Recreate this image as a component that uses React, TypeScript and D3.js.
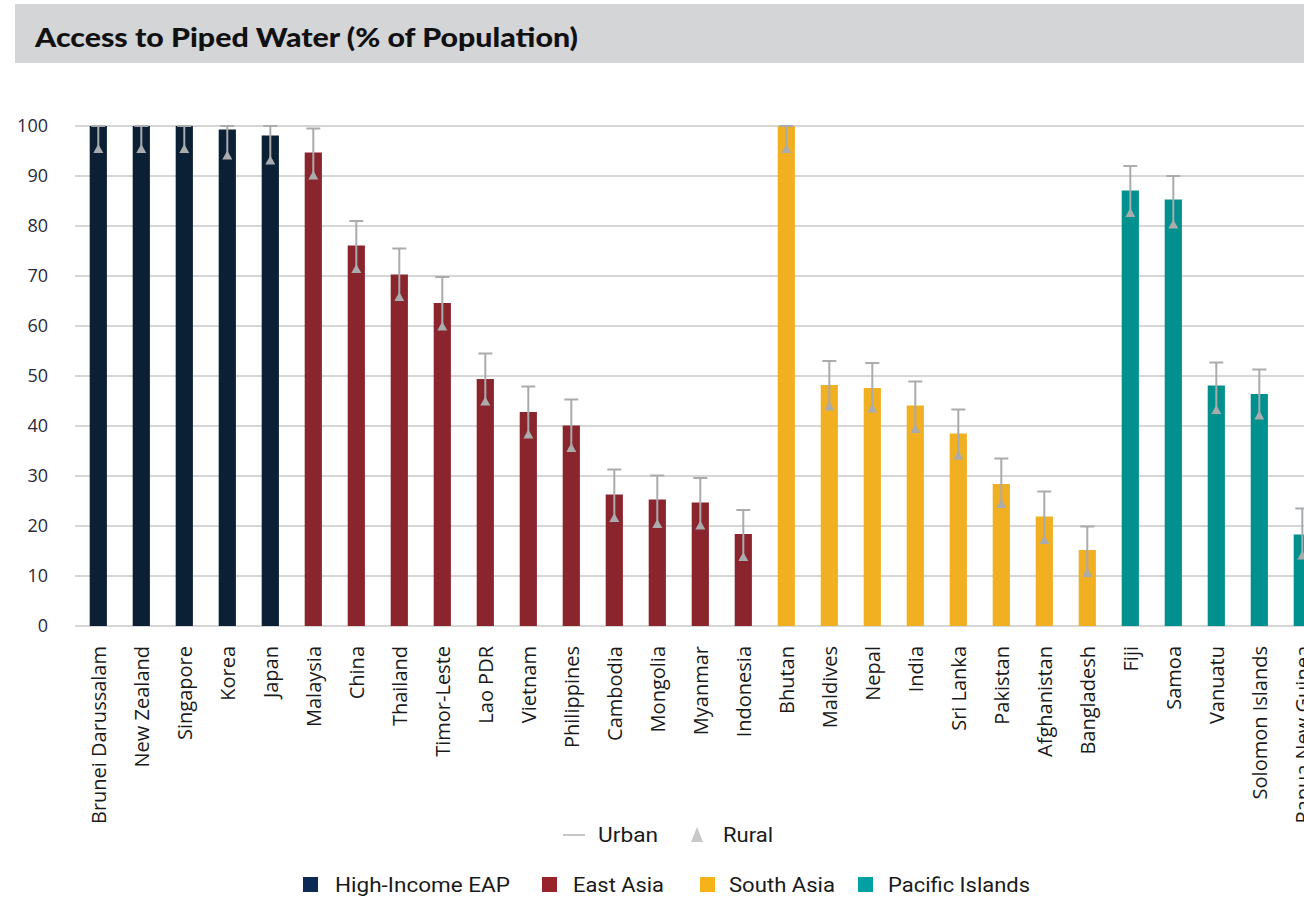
import React from "react";
import * as d3 from "d3";

const countries = [
  "Brunei Darussalam", "New Zealand", "Singapore", "Korea", "Japan",
  "Malaysia", "China", "Thailand", "Timor-Leste", "Lao PDR", "Vietnam", "Philippines",
  "Cambodia", "Mongolia", "Myanmar", "Indonesia",
  "Bhutan", "Maldives", "Nepal", "India", "Sri Lanka", "Pakistan", "Afghanistan", "Bangladesh",
  "Fiji", "Samoa", "Vanuatu", "Solomon Islands", "Papua New Guinea",
];

const regionOf = [
  "High-Income EAP", "High-Income EAP", "High-Income EAP", "High-Income EAP", "High-Income EAP",
  "East Asia", "East Asia", "East Asia", "East Asia", "East Asia", "East Asia", "East Asia",
  "East Asia", "East Asia", "East Asia", "East Asia",
  "South Asia", "South Asia", "South Asia", "South Asia", "South Asia", "South Asia", "South Asia", "South Asia",
  "Pacific Islands", "Pacific Islands", "Pacific Islands", "Pacific Islands", "Pacific Islands",
];

const nationalValues = [
  100, 100, 100, 99.3, 98.1,
  94.7, 76.1, 70.3, 64.6, 49.4, 42.8, 40.1, 26.3, 25.3, 24.7, 18.4,
  100, 48.2, 47.6, 44.1, 38.5, 28.4, 21.9, 15.2,
  87.1, 85.3, 48.1, 46.4, 18.3,
];

const urbanValues = [
  100, 100, 100, 100, 100,
  99.5, 81, 75.5, 69.8, 54.5, 47.9, 45.3, 31.3, 30.1, 29.6, 23.2,
  100, 53, 52.6, 48.9, 43.3, 33.5, 26.9, 19.9,
  92, 90, 52.7, 51.3, 23.5,
];

const ruralValues = [
  95.5, 95.5, 95.5, 94.2, 93.2,
  90.2, 71.5, 65.9, 60, 45, 38.4, 35.7, 21.7, 20.5, 20.2, 13.9,
  95.5, 44, 43.6, 39.5, 34.2, 24.5, 17.3, 10.7,
  82.7, 80.4, 43.3, 42.2, 14.2,
];

const regions = ["High-Income EAP", "East Asia", "South Asia", "Pacific Islands"];
const regionColors = ["#0b1f35", "#8a252e", "#f1b022", "#00918f"];
const legendColors = ["#0d2a55", "#98232d", "#f6b319", "#00a0a4"];

const yTicks = [0, 10, 20, 30, 40, 50, 60, 70, 80, 90, 100];

const W = 1304;
const H = 899;

export default function App() {
  const x = d3
    .scaleBand<string>()
    .domain(countries)
    .range([76.8, 76.8 + 43 * countries.length])
    .paddingInner(0.6)
    .paddingOuter(0.3);
  const y = d3.scaleLinear().domain([0, 100]).range([626, 126]);
  const color = d3.scaleOrdinal<string, string>().domain(regions).range(regionColors);
  const legendColor = d3.scaleOrdinal<string, string>().domain(regions).range(legendColors);
  const bw = x.bandwidth();
  const errColor = "#a9abad";
  const triW = 10;
  const triH = 9;

  const legendItems = [
    { x: 303, tx: 335, tw: 175 },
    { x: 542, tx: 573, tw: 91 },
    { x: 700, tx: 729, tw: 106 },
    { x: 858, tx: 888, tw: 142 },
  ];

  return (
    <div style={{ position: "absolute", left: 0, top: 0 }}>
      <svg width={W} height={H} style={{ display: "block", background: "#fff" }}>
        <rect x={15} y={4} width={W} height={59} fill="#d4d5d7" />
        <text
          x={35}
          y={47}
          fontFamily="Lato, 'Open Sans', sans-serif"
          fontWeight={900}
          fontSize={27}
          fill="#111"
          textLength={543}
          lengthAdjust="spacingAndGlyphs"
        >
          Access to Piped Water (% of Population)
        </text>

        {yTicks.map((t) => (
          <g key={t}>
            <line x1={75} x2={W + 50} y1={y(t)} y2={y(t)} stroke="#d6d6d6" strokeWidth={2} />
            <text
              x={48}
              y={y(t)}
              dy="0.35em"
              textAnchor="end"
              fontFamily="'Open Sans', sans-serif"
              fontSize={18}
              fill="#2a2a3a"
            >
              {t}
            </text>
          </g>
        ))}

        {countries.map((c, i) => {
          const cx = (x(c) as number) + bw / 2;
          const yu = y(urbanValues[i]);
          const yr = y(ruralValues[i]);
          return (
            <g key={c}>
              <rect
                x={x(c)}
                y={y(nationalValues[i])}
                width={bw}
                height={y(0) - y(nationalValues[i])}
                fill={color(regionOf[i])}
              />
              <line x1={cx} x2={cx} y1={yu} y2={yr} stroke={errColor} strokeWidth={2} />
              <line x1={cx - 7} x2={cx + 7} y1={yu} y2={yu} stroke={errColor} strokeWidth={2} />
              <path
                d={`M${cx},${yr - triH / 2}L${cx + triW / 2},${yr + triH / 2}L${cx - triW / 2},${yr + triH / 2}Z`}
                fill={errColor}
              />
              <text
                transform={`translate(${cx},646) rotate(-90)`}
                textAnchor="end"
                dy="0.36em"
                fontFamily="'Open Sans', sans-serif"
                fontSize={20}
                fill="#1a1a1a"
              >
                {c}
              </text>
            </g>
          );
        })}

        {/* Legend row 1 */}
        <line x1={563} x2={585} y1={835} y2={835} stroke="#c8c8c8" strokeWidth={2} />
        <text x={598} y={842} fontFamily="Roboto, sans-serif" fontSize={20} fill="#1a1a1a" textLength={60} lengthAdjust="spacingAndGlyphs">
          Urban
        </text>
        <path d="M697,827L703,842L691,842Z" fill="#c8c8c8" />
        <text x={723} y={842} fontFamily="Roboto, sans-serif" fontSize={20} fill="#1a1a1a" textLength={50} lengthAdjust="spacingAndGlyphs">
          Rural
        </text>

        {/* Legend row 2 */}
        {regions.map((r, i) => (
          <g key={r}>
            <rect x={legendItems[i].x} y={877} width={15} height={15} fill={legendColor(r)} />
            <text
              x={legendItems[i].tx}
              y={892}
              fontFamily="Roboto, sans-serif"
              fontSize={20}
              fill="#1a1a1a"
              textLength={legendItems[i].tw}
              lengthAdjust="spacingAndGlyphs"
            >
              {r}
            </text>
          </g>
        ))}
      </svg>
    </div>
  );
}
